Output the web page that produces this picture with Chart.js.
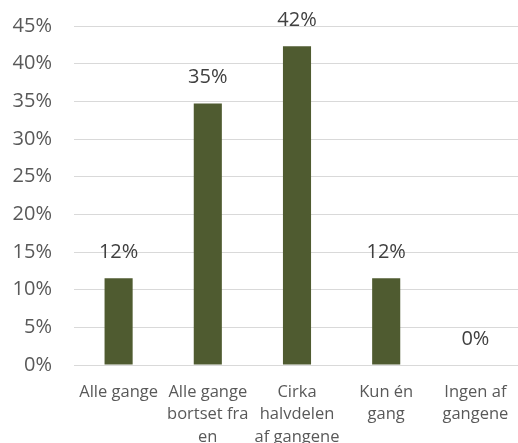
<!DOCTYPE html>
<html>
<head>
<meta charset="utf-8">
<script src="https://cdn.jsdelivr.net/npm/chart.js@4/dist/chart.umd.min.js"></script>
<style>
html,body{margin:0;padding:0;background:#fff;overflow:hidden;}
#wrap{position:absolute;left:0;top:0;width:520px;height:443px;}
</style>
</head>
<body>
<div id="wrap"><canvas id="c" width="520" height="443"></canvas></div>
<script>
const categories = [
  "Alle gange",
  ["Alle gange", "bortset fra", "en"],
  ["Cirka", "halvdelen", "af gangene"],
  ["Kun én", "gang"],
  ["Ingen af", "gangene"]
];
const values = [11.5, 34.7, 42.3, 11.5, 0];
const yTicks = [0, 5, 10, 15, 20, 25, 30, 35, 40, 45];

const FONT = "'Open Sans', sans-serif";

const labelPlugin = {
  id: 'barLabels',
  afterDatasetsDraw(chart) {
    const ctx = chart.ctx;
    const meta = chart.getDatasetMeta(0);
    ctx.save();
    ctx.font = "20px " + FONT;
    ctx.fillStyle = "#404040";
    ctx.textAlign = "center";
    ctx.textBaseline = "middle";
    meta.data.forEach((bar, i) => {
      ctx.fillText(Math.round(values[i]) + "%", bar.x, bar.y - 26);
    });
    ctx.restore();
  }
};

new Chart(document.getElementById('c'), {
  type: 'bar',
  data: {
    labels: categories,
    datasets: [{
      data: values,
      backgroundColor: '#4F5B30',
      categoryPercentage: 1,
      barPercentage: 0.315
    }]
  },
  options: {
    responsive: false,
    animation: false,
    devicePixelRatio: 1,
    layout: { padding: { top: 26, right: 0, bottom: 0, left: 0 } },
    plugins: { legend: { display: false }, tooltip: { enabled: false } },
    scales: {
      x: {
        grid: { display: false },
        border: { display: true, color: '#d9d9d9', width: 1 },
        ticks: {
          color: '#595959',
          font: { family: FONT, size: 16.5, lineHeight: 1.36 },
          padding: 8,
          maxRotation: 0,
          autoSkip: false
        },
        afterFit(s) { s.height = 78; s.paddingLeft = 0; s.paddingRight = 0; }
      },
      y: {
        min: 0,
        max: 45,
        afterBuildTicks(s) { s.ticks = yTicks.map(v => ({ value: v })); },
        grid: { color: '#d9d9d9', drawTicks: false, lineWidth: 1 },
        border: { display: false },
        ticks: {
          color: '#595959',
          font: { family: FONT, size: 20 },
          padding: 22,
          callback: v => v + '%'
        },
        afterFit(s) { s.width = 74; s.paddingTop = 0; s.paddingBottom = 0; }
      }
    }
  },
  plugins: [labelPlugin]
});
</script>
</body>
</html>
